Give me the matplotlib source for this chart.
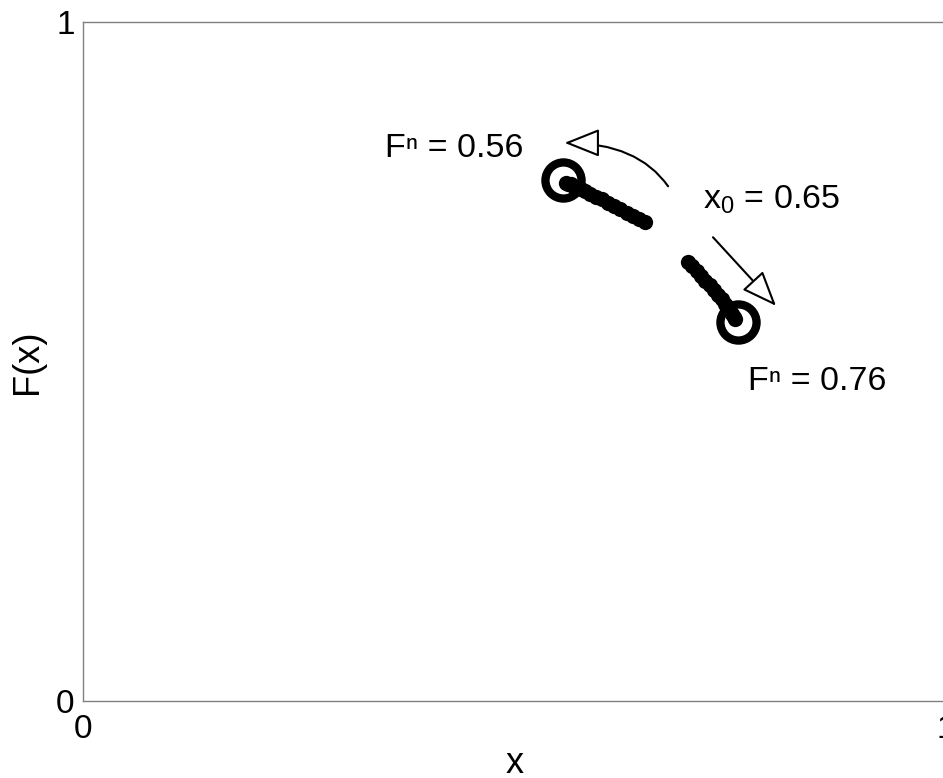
import matplotlib
matplotlib.use('Agg')
import matplotlib.pyplot as plt

plt.rcParams['font.family'] = ['Liberation Sans', 'DejaVu Sans']
plt.rcParams['mathtext.fontset'] = 'custom'
plt.rcParams['mathtext.rm'] = 'Liberation Sans'

# orbit of the map: (x_n, F(x_n))
branch1_x = [0.651, 0.644, 0.637, 0.630, 0.622, 0.615, 0.608, 0.601, 0.594,
             0.588, 0.582, 0.577, 0.572, 0.568, 0.565, 0.562, 0.560]
branch1_y = [0.705, 0.710, 0.715, 0.719, 0.724, 0.729, 0.734, 0.739, 0.743,
             0.747, 0.751, 0.754, 0.757, 0.759, 0.761, 0.762, 0.763]
branch2_x = [0.701, 0.706, 0.711, 0.716, 0.721, 0.726, 0.731, 0.736, 0.740,
             0.744, 0.747, 0.750, 0.752, 0.754, 0.755]
branch2_y = [0.647, 0.640, 0.633, 0.626, 0.619, 0.612, 0.605, 0.598, 0.592,
             0.585, 0.580, 0.575, 0.570, 0.566, 0.563]

# period-2 points
cycle_x = [0.556, 0.759]
cycle_y = [0.767, 0.558]

fig = plt.figure(figsize=(9.43, 7.78), dpi=100)
W, H = 943, 778
ax = fig.add_axes([83 / W, (H - 701) / H, 863 / W, 679 / H])

ax.plot(branch1_x, branch1_y, 'o', color='black', ms=11, mec='none')
ax.plot(branch2_x, branch2_y, 'o', color='black', ms=11, mec='none')
ax.plot(cycle_x, cycle_y, 'o', mfc='none', mec='black', ms=26, mew=6)

arrow = dict(arrowstyle='-|>,head_length=1.0,head_width=0.4',
             fc='white', ec='black', lw=1.5, shrinkA=0, shrinkB=0,
             mutation_scale=22)
ax.annotate('', xy=(0.558, 0.822), xytext=(0.678, 0.758),
            arrowprops=dict(arrow, connectionstyle='angle3,angleA=125,angleB=0'))
ax.annotate('', xy=(0.803, 0.582), xytext=(0.730, 0.683),
            arrowprops=arrow)

fs = 24.5
ax.text(0.350, 0.801, 'F\u207f = 0.56', fontsize=fs, va='baseline')
ax.text(0.718, 0.726, r'x$_\mathregular{0}$ = 0.65', fontsize=fs, va='baseline')
ax.text(0.770, 0.458, 'F\u207f = 0.76', fontsize=fs, va='baseline')

ax.set_xlim(0, 1)
ax.set_ylim(0, 1)
ax.set_xticks([0, 1])
ax.set_yticks([0, 1])
ax.tick_params(axis='x', length=0, pad=9, labelsize=24)
ax.tick_params(axis='y', length=0, pad=6, labelsize=24)
for sp in ax.spines.values():
    sp.set_color('0.5')
    sp.set_linewidth(1)

ax.set_xlabel('x', fontsize=26, labelpad=1)
ax.set_ylabel('F(x)', fontsize=26, labelpad=8)

fig.savefig('out.png', dpi=100)
